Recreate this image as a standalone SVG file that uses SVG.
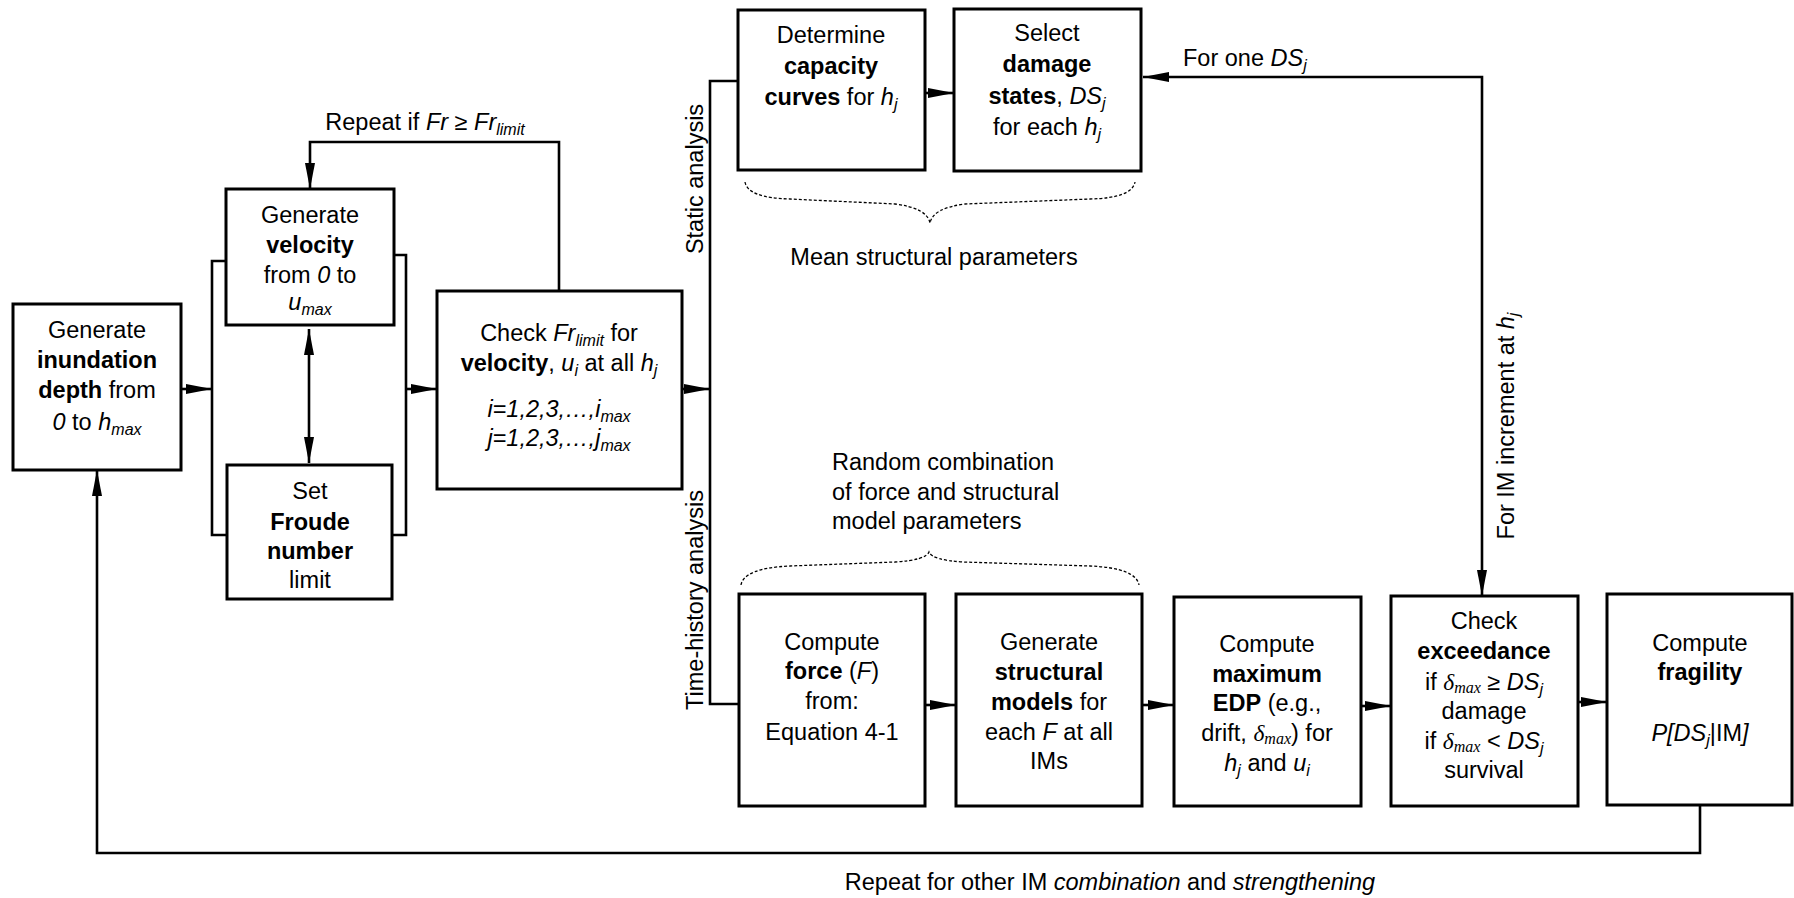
<svg xmlns="http://www.w3.org/2000/svg" width="1794" height="898" viewBox="0 0 1794 898">
<style>
.box{fill:#fff;stroke:#000;stroke-width:3}
.ln{fill:none;stroke:#000;stroke-width:2.6}
.br{fill:none;stroke:#000;stroke-width:1.3;stroke-dasharray:3 2}
text{font-family:"Liberation Sans",Arial,sans-serif;font-size:23.5px;fill:#000}
.c{text-anchor:middle}
.b{font-weight:bold}
.i{font-style:italic}
.s{font-size:16px;font-style:italic}
.d{font-family:"Liberation Serif","Times New Roman",serif;font-style:italic}
.ds{font-family:"Liberation Serif","Times New Roman",serif;font-style:italic;font-size:16px}
</style>
<defs>
<marker id="ah" markerUnits="userSpaceOnUse" markerWidth="26" markerHeight="10" refX="26" refY="5" orient="auto-start-reverse">
<path d="M0,0 L26,5 L0,10 z" fill="#000"/>
</marker>
</defs>
<rect width="1794" height="898" fill="#fff"/>

<g id="connectors">
<path class="ln" d="M181,389 H212" marker-end="url(#ah)"/>
<path class="ln" d="M226,261 H212 V535 H227"/>
<path class="ln" d="M394,255 H406 V535 H392"/>
<path class="ln" d="M309,329 V463" marker-start="url(#ah)" marker-end="url(#ah)"/>
<path class="ln" d="M406,389 H437" marker-end="url(#ah)"/>
<path class="ln" d="M559,291 V142 H310 V189" marker-end="url(#ah)"/>
<path class="ln" d="M682,389 H710" marker-end="url(#ah)"/>
<path class="ln" d="M738,81 H710 V704 H739"/>
<path class="ln" d="M925,93 H954" marker-end="url(#ah)"/>
<path class="ln" d="M1143,77 H1482 V596" marker-start="url(#ah)" marker-end="url(#ah)"/>
<path class="ln" d="M925,705 H956" marker-end="url(#ah)"/>
<path class="ln" d="M1142,705 H1174" marker-end="url(#ah)"/>
<path class="ln" d="M1361,706 H1391" marker-end="url(#ah)"/>
<path class="ln" d="M1578,702 H1607" marker-end="url(#ah)"/>
<path class="ln" d="M1700,805 V853 H97 V470" marker-end="url(#ah)"/>
<path class="br" d="M745,182 Q748,198 790,199 L895,204 Q927,208 930,223 Q933,208 965,204 L1090,199 Q1132,198 1135,182"/>
<path class="br" d="M741,585 Q744,568 790,566 L895,562 Q926,560 929,552 Q932,560 963,562 L1090,566 Q1136,568 1139,585"/>
</g>

<g id="labels">
<text x="425" y="130" class="c">Repeat if <tspan class="i">Fr</tspan> ≥ <tspan class="i">Fr</tspan><tspan class="s" dy="5">limit</tspan></text>
<text class="c" transform="translate(703,179) rotate(-90)">Static analysis</text>
<text class="c" transform="translate(703,600) rotate(-90)">Time-history analysis</text>
<text x="934" y="265" class="c">Mean structural parameters</text>
<text x="832" y="470">Random combination</text>
<text x="832" y="500">of force and structural</text>
<text x="832" y="529">model parameters</text>
<text x="1183" y="66">For one <tspan class="i">DS</tspan><tspan class="s" dy="5">j</tspan></text>
<text class="c" transform="translate(1514,426) rotate(-90)">For IM increment at <tspan class="i">h</tspan><tspan class="s" dy="5">j</tspan></text>
<text x="1110" y="890" class="c">Repeat for other IM <tspan class="i">combination</tspan> and <tspan class="i">strengthening</tspan></text>
</g>

<g id="n-inundation">
<rect class="box" x="13" y="304" width="168" height="166"/>
<text x="97" y="338" class="c">Generate</text>
<text x="97" y="368" class="c b">inundation</text>
<text x="97" y="398" class="c"><tspan class="b">depth</tspan> from</text>
<text x="97" y="430" class="c"><tspan class="i">0</tspan> to <tspan class="i">h</tspan><tspan class="s" dy="5">max</tspan></text>
</g>

<g id="n-velocity">
<rect class="box" x="226" y="189" width="168" height="136"/>
<text x="310" y="223" class="c">Generate</text>
<text x="310" y="253" class="c b">velocity</text>
<text x="310" y="283" class="c">from <tspan class="i">0</tspan> to</text>
<text x="310" y="310" class="c"><tspan class="i">u</tspan><tspan class="s" dy="5">max</tspan></text>
</g>

<g id="n-froude">
<rect class="box" x="227" y="465" width="165" height="134"/>
<text x="310" y="499" class="c">Set</text>
<text x="310" y="530" class="c b">Froude</text>
<text x="310" y="559" class="c b">number</text>
<text x="310" y="588" class="c">limit</text>
</g>

<g id="n-check-fr">
<rect class="box" x="437" y="291" width="245" height="198"/>
<text x="559" y="341" class="c">Check <tspan class="i">Fr</tspan><tspan class="s" dy="5">limit</tspan><tspan dy="-5"> for</tspan></text>
<text x="559" y="371" class="c"><tspan class="b">velocity</tspan>, <tspan class="i">u</tspan><tspan class="s" dy="5">i</tspan><tspan dy="-5"> at all </tspan><tspan class="i">h</tspan><tspan class="s" dy="5">j</tspan></text>
<text x="559" y="417" class="c i">i=1,2,3,…,i<tspan class="s" dy="5">max</tspan></text>
<text x="559" y="446" class="c i">j=1,2,3,…,j<tspan class="s" dy="5">max</tspan></text>
</g>

<g id="n-capacity">
<rect class="box" x="738" y="10" width="187" height="160"/>
<text x="831" y="43" class="c">Determine</text>
<text x="831" y="74" class="c b">capacity</text>
<text x="831" y="105" class="c"><tspan class="b">curves</tspan> for <tspan class="i">h</tspan><tspan class="s" dy="5">j</tspan></text>
</g>

<g id="n-damage">
<rect class="box" x="954" y="9" width="187" height="162"/>
<text x="1047" y="41" class="c">Select</text>
<text x="1047" y="72" class="c b">damage</text>
<text x="1047" y="104" class="c"><tspan class="b">states</tspan>, <tspan class="i">DS</tspan><tspan class="s" dy="5">j</tspan></text>
<text x="1047" y="135" class="c">for each <tspan class="i">h</tspan><tspan class="s" dy="5">j</tspan></text>
</g>

<g id="n-force">
<rect class="box" x="739" y="594" width="186" height="212"/>
<text x="832" y="650" class="c">Compute</text>
<text x="832" y="679" class="c"><tspan class="b">force</tspan> (<tspan class="i">F</tspan>)</text>
<text x="832" y="709" class="c">from:</text>
<text x="832" y="740" class="c">Equation 4-1</text>
</g>

<g id="n-structural">
<rect class="box" x="956" y="594" width="186" height="212"/>
<text x="1049" y="650" class="c">Generate</text>
<text x="1049" y="680" class="c b">structural</text>
<text x="1049" y="710" class="c"><tspan class="b">models</tspan> for</text>
<text x="1049" y="740" class="c">each <tspan class="i">F</tspan> at all</text>
<text x="1049" y="769" class="c">IMs</text>
</g>

<g id="n-edp">
<rect class="box" x="1174" y="597" width="187" height="209"/>
<text x="1267" y="652" class="c">Compute</text>
<text x="1267" y="682" class="c b">maximum</text>
<text x="1267" y="711" class="c"><tspan class="b">EDP</tspan> (e.g.,</text>
<text x="1267" y="741" class="c">drift, <tspan class="d">δ</tspan><tspan class="ds" dy="3">max</tspan><tspan dy="-3">) for</tspan></text>
<text x="1267" y="771" class="c"><tspan class="i">h</tspan><tspan class="s" dy="5">j</tspan><tspan dy="-5"> and </tspan><tspan class="i">u</tspan><tspan class="s" dy="5">i</tspan></text>
</g>

<g id="n-exceedance">
<rect class="box" x="1391" y="596" width="187" height="210"/>
<text x="1484" y="629" class="c">Check</text>
<text x="1484" y="659" class="c b">exceedance</text>
<text x="1484" y="690" class="c">if <tspan class="d">δ</tspan><tspan class="ds" dy="3">max</tspan><tspan dy="-3"> ≥ </tspan><tspan class="i">DS</tspan><tspan class="s" dy="5">j</tspan></text>
<text x="1484" y="719" class="c">damage</text>
<text x="1484" y="749" class="c">if <tspan class="d">δ</tspan><tspan class="ds" dy="3">max</tspan><tspan dy="-3"> &lt; </tspan><tspan class="i">DS</tspan><tspan class="s" dy="5">j</tspan></text>
<text x="1484" y="778" class="c">survival</text>
</g>

<g id="n-fragility">
<rect class="box" x="1607" y="594" width="185" height="211"/>
<text x="1700" y="651" class="c">Compute</text>
<text x="1700" y="680" class="c b">fragility</text>
<text x="1700" y="741" class="c"><tspan class="i">P[DS</tspan><tspan class="s" dy="5">j</tspan><tspan dy="-5">|IM</tspan><tspan class="i">]</tspan></text>
</g>
</svg>
